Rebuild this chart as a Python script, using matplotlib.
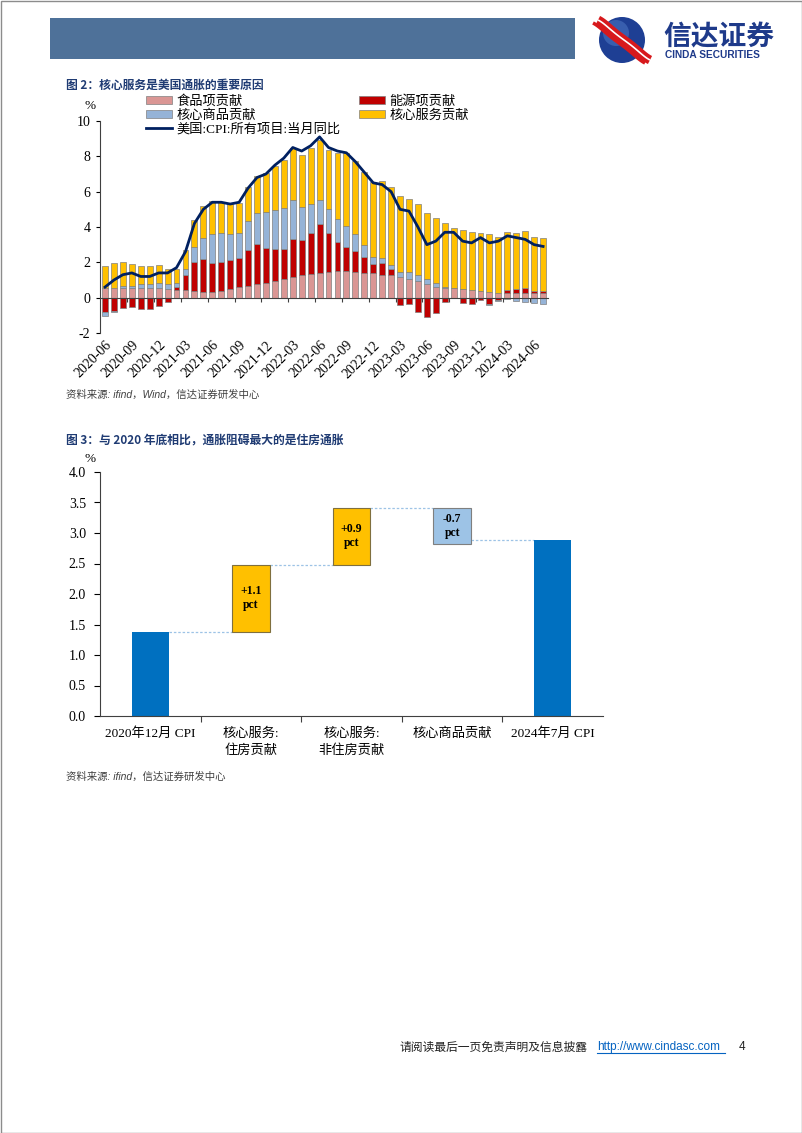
import numpy as np
import pandas as pd
import matplotlib
matplotlib.use("Agg")
import matplotlib.pyplot as plt
from matplotlib.patches import Rectangle, Circle, Patch
from matplotlib.lines import Line2D
from matplotlib.font_manager import FontProperties

plt.rcParams["axes.unicode_minus"] = False

# ---------------- data: chart 1 ----------------
months = [p.strftime("%Y-%m") for p in pd.period_range("2020-06", "2024-07", freq="M")]
tick_months = months[::3]

food = [0.56, 0.53, 0.56, 0.53, 0.53, 0.53, 0.53, 0.49, 0.45, 0.45,
        0.35, 0.30, 0.30, 0.40, 0.47, 0.60, 0.68, 0.80, 0.85, 0.92,
        1.03, 1.16, 1.26, 1.33, 1.39, 1.45, 1.52, 1.50, 1.46, 1.41,
        1.39, 1.31, 1.28, 1.18, 1.03, 0.94, 0.77, 0.62, 0.56, 0.52,
        0.47, 0.42, 0.38, 0.32, 0.28, 0.28, 0.29, 0.29, 0.28, 0.28]
energy = [-0.79, -0.75, -0.60, -0.53, -0.64, -0.64, -0.50, -0.26, 0.17, 0.86,
          1.66, 1.90, 1.65, 1.64, 1.69, 1.67, 2.04, 2.24, 1.97, 1.82,
          1.75, 2.16, 2.03, 2.33, 2.80, 2.23, 1.62, 1.37, 1.19, 0.90,
          0.49, 0.64, 0.35, -0.41, -0.36, -0.79, -1.08, -0.84, -0.24, -0.04,
          -0.30, -0.37, -0.12, -0.37, -0.12, 0.17, 0.19, 0.25, 0.07, 0.07]
goods = [-0.26, -0.07, 0.10, 0.15, 0.22, 0.22, 0.32, 0.30, 0.22, 0.31,
         0.83, 1.20, 1.63, 1.62, 1.44, 1.39, 1.60, 1.76, 2.04, 2.24,
         2.31, 2.22, 1.85, 1.62, 1.35, 1.32, 1.33, 1.21, 0.95, 0.69,
         0.43, 0.30, 0.21, 0.27, 0.42, 0.37, 0.26, 0.19, 0.05, 0.04,
         0.03, 0.03, 0.02, -0.02, -0.05, -0.10, -0.20, -0.27, -0.33, -0.37]
services = [1.22, 1.42, 1.34, 1.20, 1.03, 1.07, 0.99, 0.83, 0.81, 1.05,
            1.54, 1.78, 1.88, 1.74, 1.68, 1.71, 1.93, 2.10, 2.18, 2.49,
            2.71, 2.92, 2.96, 3.18, 3.36, 3.36, 3.72, 4.11, 4.12, 4.10,
            4.23, 4.38, 4.45, 4.32, 4.11, 4.00, 3.79, 3.72, 3.59, 3.40,
            3.33, 3.29, 3.24, 3.30, 3.18, 3.27, 3.20, 3.23, 3.11, 3.01]
cpi_yoy = [0.6, 1.0, 1.3, 1.4, 1.2, 1.2, 1.4,
           1.4, 1.7, 2.6, 4.2, 5.0, 5.4, 5.4, 5.3, 5.4, 6.2, 6.8, 7.0,
           7.5, 7.9, 8.5, 8.3, 8.6, 9.1, 8.5, 8.3, 8.2, 7.7, 7.1, 6.5,
           6.4, 6.0, 5.0, 4.9, 4.0, 3.0, 3.2, 3.7, 3.7, 3.2, 3.1, 3.4,
           3.1, 3.2, 3.5, 3.4, 3.3, 3.0, 2.9]
series_names = ["食品项贡献", "能源项贡献", "核心商品贡献", "核心服务贡献"]
line_name = "美国:CPI:所有项目:当月同比"

# ---------------- data: chart 2 ----------------
wf_labels = ["2020年12月 CPI", "核心服务:\n住房贡献", "核心服务:\n非住房贡献", "核心商品贡献", "2024年7月 CPI"]
cpi_start = 1.38
wf_contrib = [1.10, 0.93, -0.59]
cpi_end = 2.89
wf_text = ["+1.1\npct", "+0.9\npct", "-0.7\npct"]

# ---------------- styling ----------------
W, H = 802, 1133
C_FOOD, C_ENERGY, C_GOODS, C_SERV = "#DA9694", "#C00000", "#95B3D7", "#FFC000"
C_LINE = "#002060"
C_TITLE = "#1F3B73"
SERIF = ["Liberation Serif", "Noto Sans CJK SC"]
CJK = ["Noto Sans CJK SC", "Liberation Serif"]

fig = plt.figure(figsize=(W / 100, H / 100), dpi=100)
fig.patch.set_facecolor("white")

def fx(x):
    return x / W

def fy(y):
    return 1 - y / H

# background / decoration axes in pixel coordinates
bg = fig.add_axes([0, 0, 1, 1])
bg.set_xlim(0, W)
bg.set_ylim(H, 0)
bg.axis("off")
bg.add_patch(Rectangle((0.5, 0.5), W - 1, H - 1, fill=False, ec="#8c8c8c", lw=1))
bg.add_patch(Rectangle((50, 18), 525, 41, fc="#4E7199", ec="none"))
# logo
bg.add_patch(Circle((622, 40), 23, fc="#1E3F94", ec="none"))
bg.add_patch(Circle((616, 33), 13, fc="#4F78C4", ec="none", alpha=0.55))
t = np.linspace(0, 1, 60)
sx = 598 + 52 * t
sy = 20 + 40 * (0.5 - 0.5 * np.cos(np.pi * t)) + 4 * np.sin(2 * np.pi * t)
bg.plot(sx, sy, color="#D7191C", lw=6.5, solid_capstyle="butt")
bg.plot(sx, sy, color="white", lw=1.2, solid_capstyle="butt")
bg.plot(sx - 5, sy + 3, color="#D7191C", lw=2.5, solid_capstyle="butt")
bg.text(663, 37, "信达证券", fontsize=20, fontweight="bold", color="#1E3A8A",
        family=CJK, va="center", ha="left")
bg.text(665, 55, "CINDA SECURITIES", fontsize=7.3, fontweight="bold", color="#1E3A8A",
        family=["Liberation Sans"], va="center", ha="left")

# titles / sources / footer
bg.text(66, 85, "图 2：核心服务是美国通胀的重要原因", fontsize=8.5, fontweight="bold",
        color=C_TITLE, family=CJK, va="center", ha="left")
bg.text(66, 395, "资料来源: ifind，Wind，信达证券研发中心", fontsize=7.5, style="italic",
        color="#404040", family=["Liberation Sans", "Noto Sans CJK SC"], va="center", ha="left")
bg.text(66, 440, "图 3：与 2020 年底相比，通胀阻碍最大的是住房通胀", fontsize=8.5, fontweight="bold",
        color=C_TITLE, family=CJK, va="center", ha="left")
bg.text(66, 777, "资料来源: ifind，信达证券研发中心", fontsize=7.5, style="italic",
        color="#404040", family=["Liberation Sans", "Noto Sans CJK SC"], va="center", ha="left")
bg.text(400, 1047, "请阅读最后一页免责声明及信息披露", fontsize=8.5, color="#222222",
        family=CJK, va="center", ha="left")
bg.text(597, 1047, "http://www.cindasc.com", fontsize=8.5, color="#0563C1",
        family=["Liberation Sans"], va="center", ha="left")
bg.plot([597, 725], [1053, 1053], color="#0563C1", lw=0.8)
bg.text(739, 1047, "4", fontsize=8.5, color="#222222", family=["Liberation Sans"],
        va="center", ha="left")
bg.text(90, 106, "%", fontsize=9.5, family=SERIF, va="center", ha="center")
bg.text(90, 459, "%", fontsize=9.5, family=SERIF, va="center", ha="center")

# ---------------- chart 1 ----------------
ax1 = fig.add_axes([fx(100), fy(333), (548 - 100) / W, (333 - 121) / H])
ax1.set_facecolor("none")
x = np.arange(len(months))
pos_cum = np.zeros(len(months))
neg_cum = np.zeros(len(months))
handles = []
for vals, col, name in zip([food, energy, goods, services],
                           [C_FOOD, C_ENERGY, C_GOODS, C_SERV], series_names):
    v = np.array(vals)
    bottom = np.where(v >= 0, pos_cum, neg_cum)
    ax1.bar(x, v, bottom=bottom, width=0.66, color=col, edgecolor="#808080", linewidth=0.5, zorder=2)
    pos_cum = pos_cum + np.where(v >= 0, v, 0)
    neg_cum = neg_cum + np.where(v < 0, v, 0)
    handles.append(Patch(fc=col, ec="#808080", lw=0.5))
ax1.plot(x, cpi_yoy, color=C_LINE, lw=2, zorder=3)

ax1.set_xlim(-0.56, 49.55)
ax1.set_ylim(-2, 10)
ax1.set_yticks(np.arange(-2, 11, 2))
ax1.tick_params(axis="y", direction="out", length=3, width=0.8, pad=4, labelsize=10)
for lab in ax1.get_yticklabels():
    lab.set_family(SERIF)
for s in ["top", "right"]:
    ax1.spines[s].set_visible(False)
ax1.spines["left"].set_color("#404040")
ax1.spines["bottom"].set_position(("data", 0))
ax1.spines["bottom"].set_color("#404040")
ax1.spines["bottom"].set_zorder(4)
ax1.set_xticks(np.arange(2.5, 50, 3))
ax1.tick_params(axis="x", direction="out", length=3, width=0.8, labelbottom=False, color="#404040")
sec = ax1.secondary_xaxis("bottom")
sec.set_xticks(x[::3])
sec.set_xticklabels(tick_months, rotation=45, ha="right", rotation_mode="anchor",
                    fontsize=10, family=SERIF)
sec.tick_params(length=0, pad=4)
sec.spines["bottom"].set_visible(False)

fp = FontProperties(family=SERIF, size=9.5)
leg_a = fig.legend(handles=[handles[0], handles[2], Line2D([], [], color=C_LINE, lw=2)],
                   labels=[series_names[0], series_names[2], line_name],
                   loc="upper left", bbox_to_anchor=(fx(146), fy(95)), frameon=False, prop=fp,
                   handlelength=2.0, handleheight=0.6, handletextpad=0.3, labelspacing=0.12,
                   borderpad=0, borderaxespad=0)
leg_b = fig.legend(handles=[handles[1], handles[3]], labels=[series_names[1], series_names[3]],
                   loc="upper left", bbox_to_anchor=(fx(359), fy(95)), frameon=False, prop=fp,
                   handlelength=2.0, handleheight=0.6, handletextpad=0.3, labelspacing=0.12,
                   borderpad=0, borderaxespad=0)

# ---------------- chart 2 ----------------
ax2 = fig.add_axes([fx(100), fy(716), (603 - 100) / W, (716 - 472) / H])
ax2.set_facecolor("none")
wx = np.arange(len(wf_labels))
bw = 0.37
levels = [cpi_start]
for c in wf_contrib:
    levels.append(levels[-1] + c)
ax2.bar(wx[0], cpi_start, width=bw, color="#0070C0", zorder=2)
ax2.bar(wx[-1], cpi_end, width=bw, color="#0070C0", zorder=2)
box_cols = ["#FFC000" if c >= 0 else "#9DC3E6" for c in wf_contrib]
box_edges = ["#7F6F3F" if c >= 0 else "#7F7F7F" for c in wf_contrib]
for k, c in enumerate(wf_contrib):
    b = levels[k] if c >= 0 else levels[k] + c
    ax2.bar(wx[k + 1], abs(c), bottom=b, width=bw, color=box_cols[k],
            edgecolor=box_edges[k], linewidth=0.8, zorder=2)
    ax2.text(wx[k + 1], b + abs(c) / 2, wf_text[k], ha="center", va="center", fontsize=8.5,
             fontweight="bold", family=SERIF, linespacing=1.25, zorder=3)
conn = levels[:-1] + [cpi_end]
for k in range(len(conn)):
    ax2.hlines(conn[k], wx[k] + bw / 2, wx[k + 1] - bw / 2, colors="#9DC3E6",
               linestyles=(0, (2, 1.5)), lw=0.9, zorder=1)
ax2.set_xlim(-0.5, 4.5)
ax2.set_ylim(0, 4)
ax2.set_yticks(np.arange(0, 4.01, 0.5))
ax2.set_yticklabels([f"{v:.1f}" for v in np.arange(0, 4.01, 0.5)])
ax2.tick_params(axis="y", direction="out", length=4, width=0.8, pad=6, labelsize=10)
for lab in ax2.get_yticklabels():
    lab.set_family(SERIF)
ax2.set_xticks(wx)
ax2.set_xticklabels(wf_labels, fontsize=9.5, family=SERIF, linespacing=1.45, va="top")
ax2.set_xticks(np.arange(0.5, 4, 1), minor=True)
ax2.tick_params(axis="x", which="major", length=0, pad=8)
ax2.tick_params(axis="x", which="minor", direction="out", length=4, width=0.8, color="#404040")
for s in ["top", "right"]:
    ax2.spines[s].set_visible(False)
ax2.spines["left"].set_color("#404040")
ax2.spines["bottom"].set_color("#404040")

fig.savefig("out.png", dpi=100, facecolor="white")
